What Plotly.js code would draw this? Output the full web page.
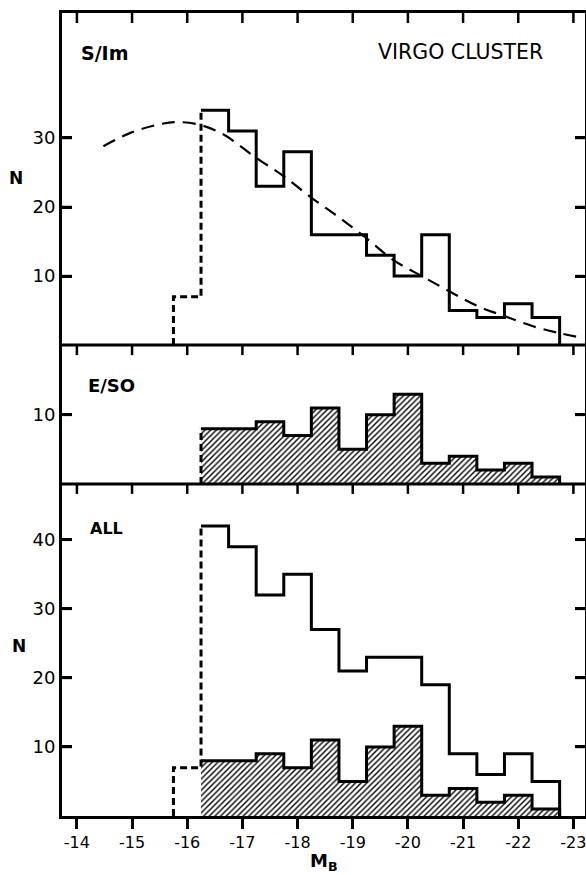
<!DOCTYPE html>
<html>
<head>
<meta charset="utf-8">
<script src="https://cdn.plot.ly/plotly-3.0.1.min.js"></script>
<style>
  html, body { margin: 0; padding: 0; background: #fff; }
  #chart { width: 586px; height: 875px; }
</style>
</head>
<body>
<div id="chart"></div>
<script>
// ---- data ----
const binCenters = [-16, -16.5, -17, -17.5, -18, -18.5, -19, -19.5, -20, -20.5, -21, -21.5, -22, -22.5];
const sImCounts  = [7, 34, 31, 23, 28, 16, 16, 13, 10, 16, 5, 4, 6, 4];
const eS0Counts  = [0, 8, 8, 9, 7, 11, 5, 10, 13, 3, 4, 2, 3, 1];
const allCounts  = [7, 42, 39, 32, 35, 27, 21, 23, 23, 19, 9, 6, 9, 5];
// first bin is incomplete (drawn dashed)
const incompleteBins = 1;

const curveMag = [-14.48, -14.96, -15.45, -15.81, -16.23, -16.66, -17.2, -17.74, -18.26, -18.75, -19.23, -19.74, -20.25, -20.75, -21.25, -21.75, -22.28, -22.77, -23.2];
const curveN   = [28.8, 30.7, 31.9, 32.3, 31.9, 30.5, 27.4, 24.5, 21.3, 18.5, 15.6, 12.3, 10.0, 7.8, 5.7, 4.2, 2.7, 1.7, 1.0];

const xTickVals = [-14, -15, -16, -17, -18, -19, -20, -21, -22, -23];
const yTicksTop = [10, 20, 30];
const yTicksMid = [10];
const yTicksBot = [10, 20, 30, 40];

const panelLabels = { top: 'S/Im', topRight: 'VIRGO CLUSTER', mid: 'E/SO', bot: 'ALL' };

// ---- panel stacking on one shared N axis (each panel keeps its own 0 baseline) ----
const panelSpan = { bot: 48.1, mid: 20.1, top: 48.1 };
const base = { bot: 0, mid: panelSpan.bot, top: panelSpan.bot + panelSpan.mid };
const yMax = base.top + panelSpan.top;

// ---- geometry ----
const W = 586, H = 875;
const M = { l: 62, r: 1, t: 13, b: 59 };
const plotW = W - M.l - M.r, plotH = H - M.t - M.b;
const xRange = [-13.73, -23.21];
const TICKLEN = 10, TICKW = 2.5;
const BLACK = '#000';
const FONT = 'DejaVu Sans, Verdana, sans-serif';

const halfW = Math.abs(binCenters[1] - binCenters[0]) / 2;
const shift = (arr, b) => arr.map(v => v + b);

function solidSteps(counts, b) {
  const xs = [], ys = [];
  for (let i = incompleteBins; i < binCenters.length; i++) {
    xs.push(binCenters[i] + halfW); ys.push(counts[i] + b);
  }
  const last = binCenters.length - 1;
  xs.push(binCenters[last] - halfW); ys.push(counts[last] + b);
  xs.push(binCenters[last] - halfW); ys.push(b);
  return { x: xs, y: ys };
}
function stepPolygon(counts, b) {
  const xs = [binCenters[incompleteBins] + halfW], ys = [b];
  for (let i = incompleteBins; i < binCenters.length; i++) {
    xs.push(binCenters[i] + halfW, binCenters[i] - halfW);
    ys.push(counts[i] + b, counts[i] + b);
  }
  xs.push(binCenters[binCenters.length - 1] - halfW); ys.push(b);
  return { x: xs, y: ys };
}
function dashedPart(counts, b) {
  const c0 = binCenters[0], n0 = counts[0], n1 = counts[incompleteBins];
  if (n0 > 0) return { x: [c0 + halfW, c0 + halfW, c0 - halfW, c0 - halfW], y: [b, n0 + b, n0 + b, n1 + b] };
  return { x: [c0 - halfW, c0 - halfW], y: [b, n1 + b] };
}

function histLine(counts, b) {
  const s = solidSteps(counts, b);
  return { type: 'scatter', mode: 'lines', x: s.x, y: s.y, line: { color: BLACK, width: 3, shape: 'hv' } };
}
function hatchFill(counts, b) {
  const p = stepPolygon(counts, b);
  return { type: 'scatter', mode: 'lines', x: p.x, y: p.y, fill: 'toself', fillcolor: 'rgba(0,0,0,0)',
    fillpattern: { shape: '/', size: 4, solidity: 0.35, fgcolor: BLACK, bgcolor: 'white', fillmode: 'replace' },
    line: { color: 'rgba(0,0,0,0)', width: 0 } };
}
function dashed(counts, b) {
  const d = dashedPart(counts, b);
  return { type: 'scatter', mode: 'lines', x: d.x, y: d.y, line: { color: BLACK, width: 3, dash: '7px,4px' } };
}

// panel separators and inward tick marks, drawn through the shared scales
const pxPerY = plotH / yMax;
const pxPerX = plotW / Math.abs(xRange[1] - xRange[0]);
const dir = Math.sign(xRange[1] - xRange[0]);
function separators() {
  const xs = [], ys = [];
  [base.mid, base.top].forEach(b => { xs.push(xRange[0], xRange[1], null); ys.push(b, b, null); });
  return { type: 'scatter', mode: 'lines', x: xs, y: ys, line: { color: BLACK, width: 3 } };
}
function inwardTicks() {
  const xs = [], ys = [];
  const dy = TICKLEN / pxPerY, dx = TICKLEN / pxPerX;
  [base.mid, base.top, yMax].forEach(topEdge => {
    xTickVals.forEach(v => { xs.push(v, v, null); ys.push(topEdge, topEdge - dy, null); });
  });
  const yAll = yTicksBot.map(v => v + base.bot).concat(yTicksMid.map(v => v + base.mid), yTicksTop.map(v => v + base.top));
  yAll.forEach(v => {
    xs.push(xRange[0], xRange[0] + dir * dx, null); ys.push(v, v, null);
    xs.push(xRange[1], xRange[1] - dir * dx, null); ys.push(v, v, null);
  });
  return { type: 'scatter', mode: 'lines', x: xs, y: ys, line: { color: BLACK, width: TICKW } };
}

const traces = [
  // bottom panel: ALL (E/S0 hatched underneath)
  hatchFill(eS0Counts, base.bot),
  histLine(eS0Counts, base.bot),
  histLine(allCounts, base.bot),
  dashed(allCounts, base.bot),
  // middle panel: E/S0
  hatchFill(eS0Counts, base.mid),
  histLine(eS0Counts, base.mid),
  dashed(eS0Counts, base.mid),
  // top panel: S/Im
  histLine(sImCounts, base.top),
  dashed(sImCounts, base.top),
  { type: 'scatter', mode: 'lines', x: curveMag, y: shift(curveN, base.top),
    line: { color: BLACK, width: 2.2, dash: '13px,8px', shape: 'spline', smoothing: 1 } },
  separators(),
  inwardTicks()
];

const yTickVals = yTicksBot.map(v => v + base.bot).concat(yTicksMid.map(v => v + base.mid), yTicksTop.map(v => v + base.top));
const yTickText = yTicksBot.concat(yTicksMid, yTicksTop).map(v => String(v));

const layout = {
  width: W, height: H,
  margin: M,
  showlegend: false,
  font: { family: FONT, color: BLACK },
  xaxis: { range: xRange, tickvals: xTickVals, ticktext: xTickVals.map(v => String(v)),
    showgrid: false, zeroline: false, showline: true, linewidth: 3, linecolor: BLACK, mirror: true,
    ticks: 'outside', ticklen: TICKLEN, tickwidth: TICKW, tickcolor: BLACK,
    tickfont: { family: FONT, size: 16, color: BLACK }, ticklabeloverflow: 'allow' },
  yaxis: { range: [0, yMax], tickvals: yTickVals, ticktext: yTickText,
    showgrid: false, zeroline: false, showline: true, linewidth: 3, linecolor: BLACK, mirror: 'ticks',
    ticks: 'inside', ticklen: TICKLEN, tickwidth: TICKW, tickcolor: BLACK,
    tickfont: { family: FONT, size: 18, color: BLACK } },
  annotations: [
    { text: panelLabels.top, x: -14.04, y: base.top + 42.3, xanchor: 'left', yanchor: 'middle',
      showarrow: false, font: { family: FONT, size: 19, color: BLACK, weight: 'bold' } },
    { text: panelLabels.topRight, x: -19.43, y: base.top + 42.5, xanchor: 'left', yanchor: 'middle',
      showarrow: false, font: { family: FONT, size: 20.5, color: BLACK } },
    { text: panelLabels.mid, x: -14.17, y: base.mid + 14.3, xanchor: 'left', yanchor: 'middle',
      showarrow: false, font: { family: FONT, size: 18, color: BLACK, weight: 'bold' } },
    { text: panelLabels.bot, x: -14.2, y: base.bot + 41.6, xanchor: 'left', yanchor: 'middle',
      showarrow: false, font: { family: FONT, size: 16, color: BLACK, weight: 'bold' } },
    { text: 'N', xref: 'paper', x: -0.087, y: base.top + 24.2, xanchor: 'center', yanchor: 'middle',
      showarrow: false, font: { family: FONT, size: 17, color: BLACK, weight: 'bold' } },
    { text: 'N', xref: 'paper', x: -0.083, y: base.bot + 24.6, xanchor: 'center', yanchor: 'middle',
      showarrow: false, font: { family: FONT, size: 17, color: BLACK, weight: 'bold' } },
    { text: 'M<sub>B</sub>', xref: 'paper', yref: 'paper', x: 0.5, y: -0.057, xanchor: 'center', yanchor: 'middle',
      showarrow: false, font: { family: FONT, size: 18, color: BLACK, weight: 'bold' } }
  ]
};

Plotly.newPlot('chart', traces, layout, { displayModeBar: false });
</script>
</body>
</html>
